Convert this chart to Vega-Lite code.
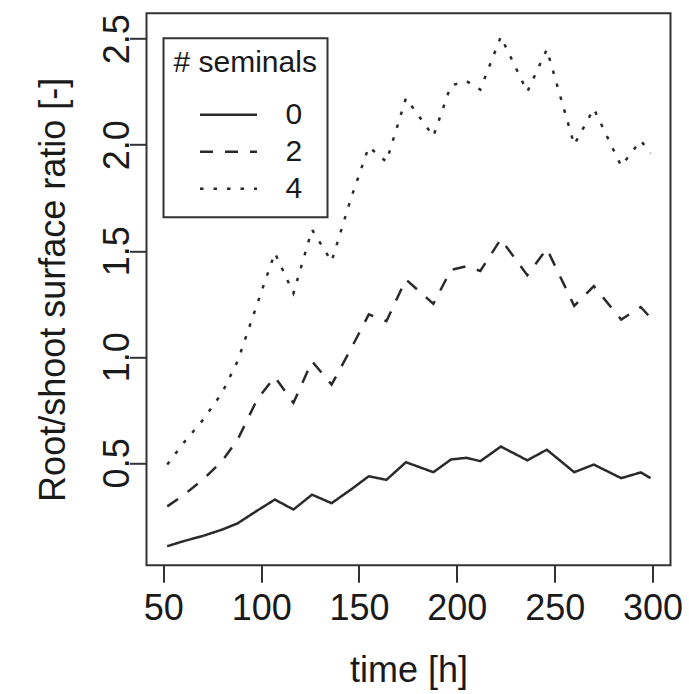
{
  "$schema": "https://vega.github.io/schema/vega-lite/v6.json",
  "width": 524,
  "height": 552,
  "autosize": {"type": "none"},
  "padding": {"left": 146.5, "top": 13.3, "right": 18.5, "bottom": 128.7},
  "background": "white",
  "config": {
    "font": "Liberation Sans",
    "view": {"stroke": "#333333", "strokeWidth": 2},
    "legend": {"strokeWidth": 2}
  },
  "data": {
    "values": [
      {"time": 52, "ratio": 0.107, "seminals": "0"},
      {"time": 60, "ratio": 0.13, "seminals": "0"},
      {"time": 70, "ratio": 0.155, "seminals": "0"},
      {"time": 80, "ratio": 0.185, "seminals": "0"},
      {"time": 88, "ratio": 0.215, "seminals": "0"},
      {"time": 98, "ratio": 0.275, "seminals": "0"},
      {"time": 107, "ratio": 0.327, "seminals": "0"},
      {"time": 116.5, "ratio": 0.28, "seminals": "0"},
      {"time": 126, "ratio": 0.35, "seminals": "0"},
      {"time": 136, "ratio": 0.31, "seminals": "0"},
      {"time": 146, "ratio": 0.375, "seminals": "0"},
      {"time": 155, "ratio": 0.437, "seminals": "0"},
      {"time": 164, "ratio": 0.42, "seminals": "0"},
      {"time": 174, "ratio": 0.503, "seminals": "0"},
      {"time": 188, "ratio": 0.456, "seminals": "0"},
      {"time": 197, "ratio": 0.516, "seminals": "0"},
      {"time": 205, "ratio": 0.524, "seminals": "0"},
      {"time": 212, "ratio": 0.508, "seminals": "0"},
      {"time": 222.5, "ratio": 0.577, "seminals": "0"},
      {"time": 236, "ratio": 0.512, "seminals": "0"},
      {"time": 246, "ratio": 0.562, "seminals": "0"},
      {"time": 260, "ratio": 0.456, "seminals": "0"},
      {"time": 270, "ratio": 0.492, "seminals": "0"},
      {"time": 284, "ratio": 0.428, "seminals": "0"},
      {"time": 294, "ratio": 0.455, "seminals": "0"},
      {"time": 299, "ratio": 0.428, "seminals": "0"},

      {"time": 52, "ratio": 0.295, "seminals": "2"},
      {"time": 60, "ratio": 0.345, "seminals": "2"},
      {"time": 70, "ratio": 0.42, "seminals": "2"},
      {"time": 80, "ratio": 0.508, "seminals": "2"},
      {"time": 88, "ratio": 0.61, "seminals": "2"},
      {"time": 98, "ratio": 0.8, "seminals": "2"},
      {"time": 107, "ratio": 0.905, "seminals": "2"},
      {"time": 116.5, "ratio": 0.783, "seminals": "2"},
      {"time": 126, "ratio": 0.979, "seminals": "2"},
      {"time": 136, "ratio": 0.869, "seminals": "2"},
      {"time": 146, "ratio": 1.04, "seminals": "2"},
      {"time": 155, "ratio": 1.2, "seminals": "2"},
      {"time": 164, "ratio": 1.168, "seminals": "2"},
      {"time": 174, "ratio": 1.365, "seminals": "2"},
      {"time": 188, "ratio": 1.25, "seminals": "2"},
      {"time": 197, "ratio": 1.41, "seminals": "2"},
      {"time": 205, "ratio": 1.427, "seminals": "2"},
      {"time": 212, "ratio": 1.405, "seminals": "2"},
      {"time": 222.5, "ratio": 1.555, "seminals": "2"},
      {"time": 236, "ratio": 1.385, "seminals": "2"},
      {"time": 246, "ratio": 1.51, "seminals": "2"},
      {"time": 260, "ratio": 1.24, "seminals": "2"},
      {"time": 270, "ratio": 1.333, "seminals": "2"},
      {"time": 284, "ratio": 1.176, "seminals": "2"},
      {"time": 294, "ratio": 1.235, "seminals": "2"},
      {"time": 299, "ratio": 1.184, "seminals": "2"},

      {"time": 52, "ratio": 0.492, "seminals": "4"},
      {"time": 60, "ratio": 0.59, "seminals": "4"},
      {"time": 70, "ratio": 0.7, "seminals": "4"},
      {"time": 80, "ratio": 0.83, "seminals": "4"},
      {"time": 88, "ratio": 0.98, "seminals": "4"},
      {"time": 98, "ratio": 1.25, "seminals": "4"},
      {"time": 107, "ratio": 1.49, "seminals": "4"},
      {"time": 116.5, "ratio": 1.3, "seminals": "4"},
      {"time": 126, "ratio": 1.6, "seminals": "4"},
      {"time": 136, "ratio": 1.45, "seminals": "4"},
      {"time": 146, "ratio": 1.75, "seminals": "4"},
      {"time": 155, "ratio": 1.99, "seminals": "4"},
      {"time": 164, "ratio": 1.92, "seminals": "4"},
      {"time": 174, "ratio": 2.22, "seminals": "4"},
      {"time": 188, "ratio": 2.04, "seminals": "4"},
      {"time": 197, "ratio": 2.28, "seminals": "4"},
      {"time": 205, "ratio": 2.3, "seminals": "4"},
      {"time": 212, "ratio": 2.26, "seminals": "4"},
      {"time": 222.5, "ratio": 2.51, "seminals": "4"},
      {"time": 236, "ratio": 2.25, "seminals": "4"},
      {"time": 246, "ratio": 2.45, "seminals": "4"},
      {"time": 260, "ratio": 2.0, "seminals": "4"},
      {"time": 270, "ratio": 2.17, "seminals": "4"},
      {"time": 284, "ratio": 1.9, "seminals": "4"},
      {"time": 294, "ratio": 2.02, "seminals": "4"},
      {"time": 299, "ratio": 1.96, "seminals": "4"}
    ]
  },
  "mark": {"type": "line", "stroke": "#2a2a2a", "strokeWidth": 2.5, "strokeCap": "butt"},
  "encoding": {
    "x": {
      "field": "time",
      "type": "quantitative",
      "scale": {"domain": [41.4, 309.2], "nice": false, "zero": false},
      "axis": {
        "title": "time [h]",
        "values": [50, 100, 150, 200, 250, 300],
        "grid": false,
        "domain": false,
        "tickSize": 17,
        "tickWidth": 2,
        "tickColor": "#333333",
        "labelFontSize": 36,
        "labelColor": "#1a1a1a",
        "labelPadding": 9,
        "labelFlush": false,
        "labelOverlap": false,
        "titleFontSize": 36,
        "titleFontWeight": "normal",
        "titleColor": "#1a1a1a",
        "titleBaseline": "alphabetic",
        "titleY": 116
      }
    },
    "y": {
      "field": "ratio",
      "type": "quantitative",
      "scale": {"domain": [0.017, 2.62], "nice": false, "zero": false},
      "axis": {
        "title": "Root/shoot surface ratio [-]",
        "values": [0.5, 1, 1.5, 2, 2.5],
        "format": ".1f",
        "grid": false,
        "domain": false,
        "tickSize": 17,
        "tickWidth": 2,
        "tickColor": "#333333",
        "labelFontSize": 36,
        "labelColor": "#1a1a1a",
        "labelAngle": -90,
        "labelAlign": "center",
        "labelBaseline": "alphabetic",
        "labelPadding": 1,
        "labelFlush": false,
        "labelOverlap": false,
        "titleFontSize": 36,
        "titleFontWeight": "normal",
        "titleColor": "#1a1a1a",
        "titleAngle": -90,
        "titleBaseline": "alphabetic",
        "titleAlign": "center",
        "titleX": -82,
        "titleY": 276
      }
    },
    "strokeDash": {
      "field": "seminals",
      "type": "nominal",
      "scale": {"domain": ["0", "2", "4"], "range": [[1, 0], [13, 12], [3.5, 10]]},
      "legend": {
        "title": "# seminals",
        "orient": "none",
        "legendX": 17,
        "legendY": 25,
        "padding": 10,
        "strokeColor": "#333333",
        "fillColor": "white",
        "cornerRadius": 0,
        "titleFontSize": 30,
        "titleFontWeight": "normal",
        "titleColor": "#1a1a1a",
        "titlePadding": 18,
        "labelFontSize": 30,
        "labelColor": "#1a1a1a",
        "labelOffset": 27,
        "symbolType": "stroke",
        "symbolSize": 3249,
        "symbolStrokeWidth": 2.5,
        "symbolStrokeColor": "#2a2a2a",
        "symbolOffset": 25,
        "clipHeight": 37,
        "rowPadding": 0
      }
    }
  }
}
